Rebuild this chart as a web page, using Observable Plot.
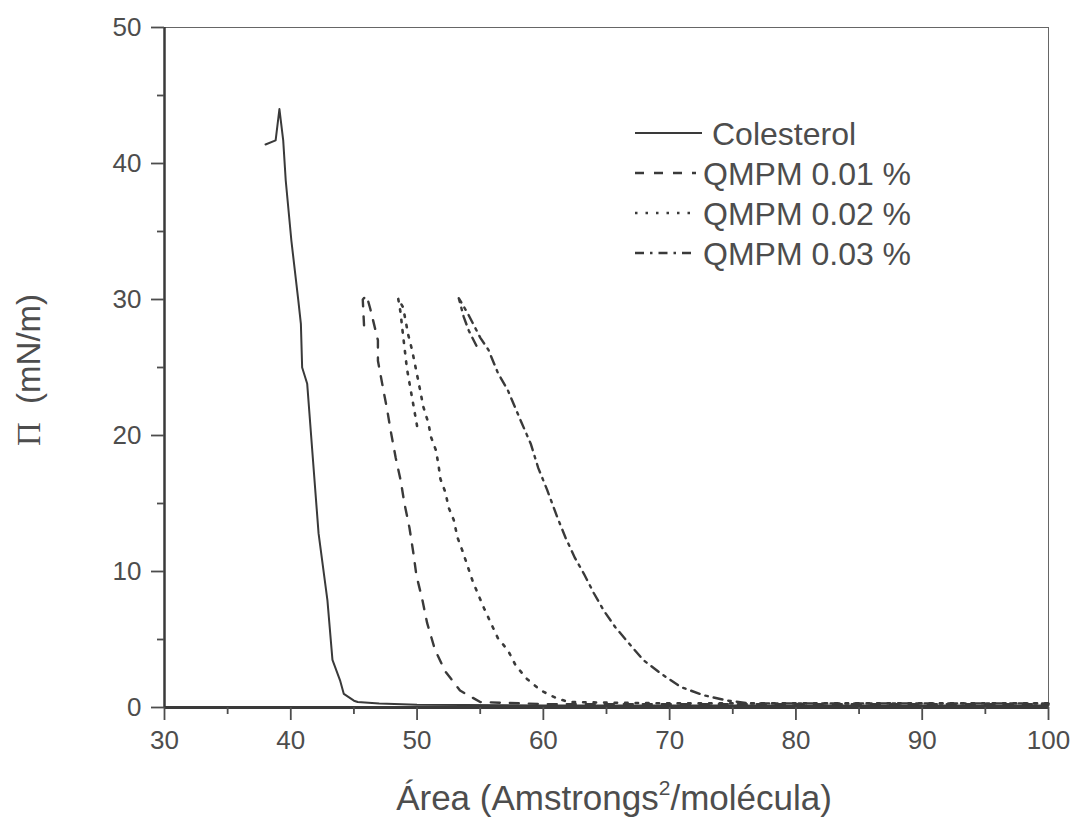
<!DOCTYPE html>
<html>
<head>
<meta charset="utf-8">
<script src="https://cdn.jsdelivr.net/npm/d3@7"></script>
<script src="https://cdn.jsdelivr.net/npm/@observablehq/plot@0.6"></script>
<style>
  html, body { margin: 0; padding: 0; background: #fff; }
  #chart { width: 1074px; height: 822px; }
</style>
</head>
<body>
<div id="chart"></div>
<script>
// ---- Data ----
const seriesNames = ["Colesterol", "QMPM 0.01 %", "QMPM 0.02 %", "QMPM 0.03 %"];

const colesterolArea = [38.0, 38.8, 39.1, 39.4, 39.6, 40.05, 40.6, 40.8, 40.9, 41.3, 41.7, 42.2, 42.9, 43.3, 43.9, 44.2, 45.0, 45.3, 47, 50, 60, 70, 80, 90, 100];
const colesterolPi   = [41.4, 41.7, 44.0, 41.7, 38.75, 34.3, 29.9, 28.2, 25.0, 23.8, 18.9, 12.8, 7.9, 3.5, 2.0, 1.0, 0.5, 0.4, 0.3, 0.2, 0.15, 0.15, 0.15, 0.15, 0.15];

const qmpm01Area = [45.8, 45.7, 46.0, 46.3, 46.9, 46.9, 47.3, 47.65, 47.9, 48.3, 48.7, 49.0, 49.4, 49.7, 49.95, 50.4, 50.8, 51.4, 52.2, 53.4, 55.0, 60, 70, 80, 90, 100];
const qmpm01Pi   = [28.1, 30.0, 30.3, 29.3, 27.0, 25.5, 23.5, 21.8, 20.4, 18.4, 16.7, 15.0, 13.2, 11.4, 9.7, 8.0, 6.2, 4.3, 2.7, 1.25, 0.4, 0.25, 0.25, 0.25, 0.25, 0.25];

const qmpm02Area = [50.0, 49.6, 49.2, 48.8, 48.7, 48.5, 48.9, 49.3, 49.6, 50.1, 50.5, 50.9, 51.1, 51.5, 51.7, 51.85, 52.25, 52.5, 52.9, 53.2, 53.6, 54.0, 54.4, 54.8, 55.3, 55.8, 56.4, 57.2, 57.8, 58.7, 59.8, 61.0, 62.0, 70, 80, 90, 100];
const qmpm02Pi   = [20.7, 22.8, 24.9, 28.1, 29.0, 30.1, 29.4, 27.4, 26.3, 24.0, 22.1, 20.9, 19.9, 18.9, 17.8, 16.8, 15.8, 14.7, 13.8, 12.5, 11.5, 10.4, 9.3, 8.4, 7.3, 6.3, 5.1, 4.2, 3.1, 2.1, 1.25, 0.7, 0.4, 0.3, 0.3, 0.3, 0.3];

const qmpm03Area = [54.7, 54.1, 53.7, 53.3, 54.0, 55.0, 55.65, 56.4, 57.2, 58.2, 59.0, 59.6, 60.3, 61.1, 61.75, 62.5, 63.2, 64.0, 64.8, 65.7, 66.7, 67.9, 69.3, 70.9, 72.7, 74.6, 76.4, 80, 90, 100];
const qmpm03Pi   = [26.6, 27.7, 28.7, 30.1, 29.0, 27.2, 26.3, 24.6, 23.3, 21.1, 19.4, 17.6, 16.0, 14.0, 12.5, 11.0, 9.85, 8.4, 7.1, 5.9, 4.8, 3.5, 2.5, 1.5, 0.9, 0.5, 0.3, 0.3, 0.3, 0.3];

const xMajorTicks = [30, 40, 50, 60, 70, 80, 90, 100];
const xMinorTicks = [35, 45, 55, 65, 75, 85, 95];
const yMajorTicks = [0, 10, 20, 30, 40, 50];
const yMinorTicks = [5, 15, 25, 35, 45];

const xTitle = ["Área (Amstrongs", "2", "/molécula)"];
const yTitle = ["Π", "  (mN/m)"];

// ---- Build table ----
function toRows(name, xs, ys) { return xs.map((x, i) => ({serie: name, area: x, pi: ys[i]})); }
const rows = [
  ...toRows(seriesNames[0], colesterolArea, colesterolPi),
  ...toRows(seriesNames[1], qmpm01Area, qmpm01Pi),
  ...toRows(seriesNames[2], qmpm02Area, qmpm02Pi),
  ...toRows(seriesNames[3], qmpm03Area, qmpm03Pi)
];

const lineColor = "#3a3a3a";
const textColor = "#4d4d4d";
const dashes = ["none", "9,10", "2.5,8", "9,6,2.5,6"];
const widths = [2, 2.4, 2.6, 2.4];

const lineMarks = seriesNames.map((s, i) =>
  Plot.line(rows.filter(d => d.serie === s), {
    x: "area", y: "pi", stroke: lineColor,
    strokeWidth: widths[i],
    strokeDasharray: dashes[i],
    curve: "linear"
  })
);

const W = 1074, H = 822;
const mL = 164, mR = 26, mT = 27, mB = 115;

const chart = Plot.plot({
  width: W, height: H,
  marginLeft: mL, marginRight: mR, marginTop: mT, marginBottom: mB,
  style: {fontFamily: "'Liberation Sans', Arial, sans-serif", background: "#fff", color: textColor},
  x: {domain: [30, 100], label: null},
  y: {domain: [0, 50], label: null},
  marks: [
    Plot.frame({stroke: "#666", strokeWidth: 1}),
    ...lineMarks,
    Plot.ruleX([30], {stroke: lineColor, strokeWidth: 2.5}),
    Plot.ruleY([0], {stroke: lineColor, strokeWidth: 3}),
    Plot.axisX({ticks: xMajorTicks, tickSize: 13, tickPadding: 10, fontSize: 26, color: textColor, strokeWidth: 1.8, label: null}),
    Plot.axisX({ticks: xMinorTicks, tickSize: 7, tickFormat: () => "", color: textColor, strokeWidth: 1.8, label: null}),
    Plot.axisY({ticks: yMajorTicks, tickSize: 13, tickPadding: 10, fontSize: 26, color: textColor, strokeWidth: 1.8, label: null}),
    Plot.axisY({ticks: yMinorTicks, tickSize: 7, tickFormat: () => "", color: textColor, strokeWidth: 1.8, label: null})
  ]
});

document.getElementById("chart").appendChild(chart);

// ---- Axis titles and legend (text / style additions) ----
const svg = d3.select(chart);
const ff = "'Liberation Sans', Arial, sans-serif";

const xt = svg.append("text")
  .attr("x", 614).attr("y", 810)
  .attr("text-anchor", "middle")
  .attr("font-family", ff).attr("font-size", 35).attr("fill", textColor);
xt.append("tspan").text(xTitle[0]);
xt.append("tspan").attr("dy", -15).attr("font-size", 21).text(xTitle[1]);
xt.append("tspan").attr("dy", 15).text(xTitle[2]);

const yt = svg.append("text")
  .attr("transform", "translate(40,370) rotate(-90)")
  .attr("text-anchor", "middle")
  .attr("font-family", ff).attr("font-size", 33).attr("fill", textColor)
  .attr("xml:space", "preserve");
yt.append("tspan").attr("font-family", "'Liberation Serif', 'DejaVu Serif', serif").text(yTitle[0]);
yt.append("tspan").text(yTitle[1]);

const leg = svg.append("g");
const legY0 = 133, legDy = 40;
seriesNames.forEach((s, i) => {
  const y = legY0 + i * legDy;
  leg.append("line")
    .attr("x1", 635).attr("x2", i === 0 ? 702 : 696).attr("y1", y).attr("y2", y)
    .attr("stroke", lineColor).attr("stroke-width", widths[i])
    .attr("stroke-dasharray", dashes[i]);
  leg.append("text")
    .attr("x", i === 0 ? 712 : 703).attr("y", y).attr("dy", "0.36em")
    .attr("text-anchor", "start")
    .attr("font-family", ff).attr("font-size", 32).attr("fill", textColor)
    .text(s);
});
</script>
</body>
</html>
